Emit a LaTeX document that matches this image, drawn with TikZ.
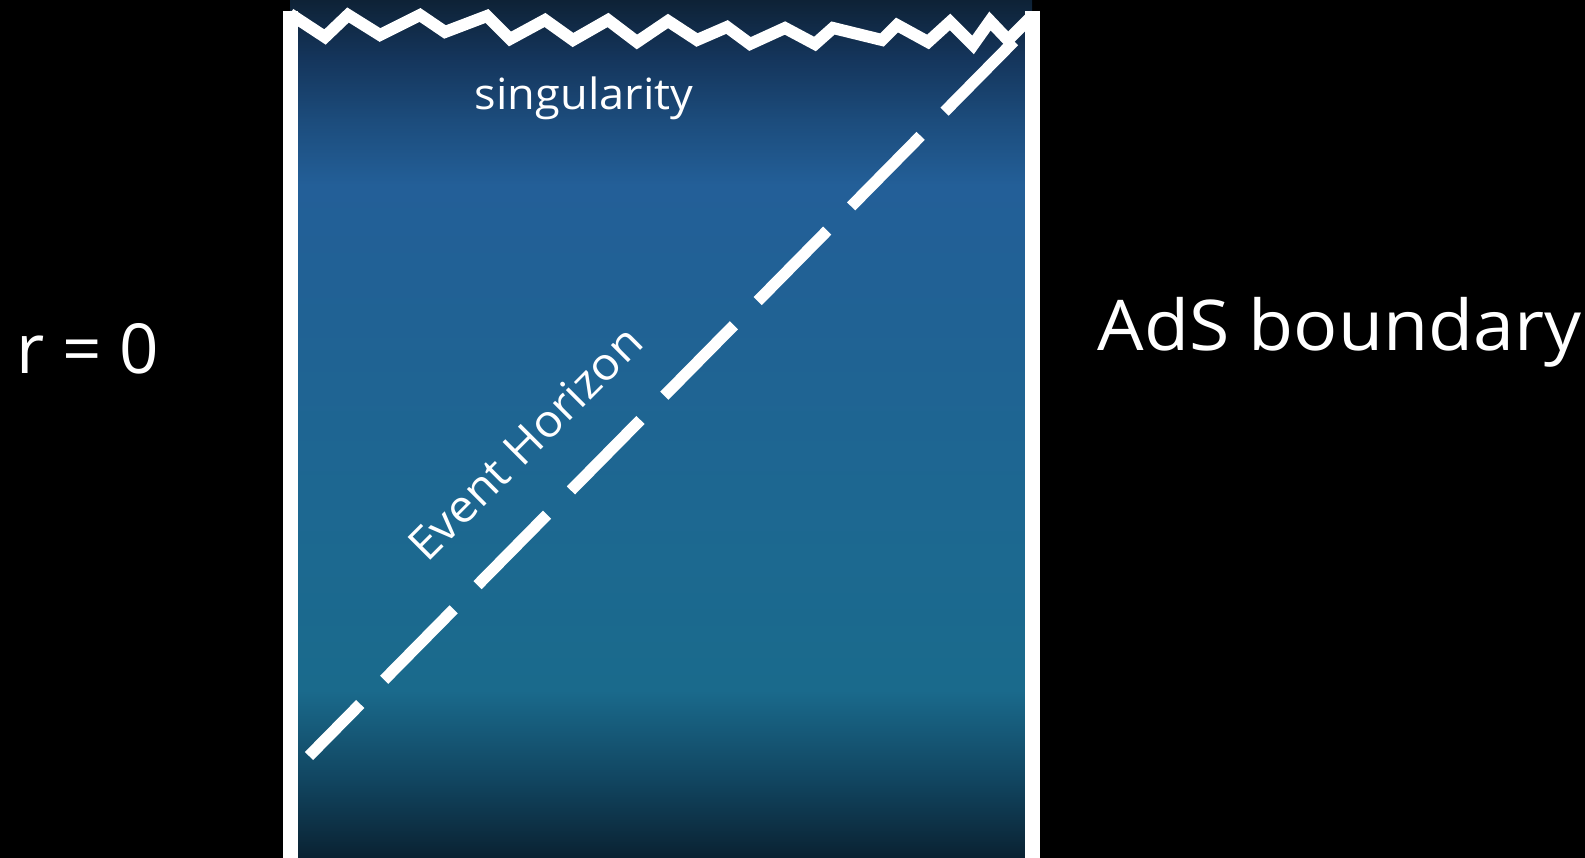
\documentclass[tikz,border=0pt]{standalone}
\usepackage{fontspec}
\setmainfont{Open Sans}
\newfontfamily\widefont[FakeStretch=1.05]{Open Sans}
\definecolor{g0}{HTML}{0E2236}
\definecolor{g1}{HTML}{14345A}
\definecolor{g2}{HTML}{1C4C7C}
\definecolor{g3}{HTML}{235F98}
\definecolor{g4}{HTML}{206294}
\definecolor{g5}{HTML}{1C6990}
\definecolor{g6}{HTML}{1A6A8C}
\definecolor{g7}{HTML}{114560}
\definecolor{g8}{HTML}{0A2232}
\begin{document}
\begin{tikzpicture}[x=1pt,y=-1pt,
  wall/.style={white,line width=15pt},
  zig/.style={white,line width=12pt,miter limit=10},
  horizon/.style={white,line width=11.5pt,dash pattern=on 99pt off 34pt,dash phase=26pt},
  lbl/.style={text=white,inner sep=0pt}]
\useasboundingbox (0,0) rectangle (1585,858);
\fill[black] (0,0) rectangle (1585,858);
% gradient
\shade[top color=g0,bottom color=g1] (290,0) rectangle (1032,55.5);
\shade[top color=g1,bottom color=g2] (290,55) rectangle (1032,120.5);
\shade[top color=g2,bottom color=g3] (290,120) rectangle (1032,185.5);
\shade[top color=g3,bottom color=g4] (290,185) rectangle (1032,320.5);
\shade[top color=g4,bottom color=g5] (290,320) rectangle (1032,560.5);
\shade[top color=g5,bottom color=g6] (290,560) rectangle (1032,690.5);
\shade[top color=g6,bottom color=g7] (290,690) rectangle (1032,780.5);
\shade[top color=g7,bottom color=g8] (290,780) rectangle (1032,858);
% event horizon
\coordinate (hA) at (309,756);
\coordinate (hB) at (1032,23);
\draw[horizon] (hA) -- (hB);
% singularity
\draw[zig] (290,14) -- (325,37) -- (348,15) -- (380,35) -- (420,15) -- (445,32)
  -- (487,16) -- (510,39) -- (545,20) -- (573,40) -- (608,20) -- (637,42)
  -- (668,21) -- (697,40) -- (727,27) -- (750,44) -- (785,28) -- (815,44)
  -- (833,28) -- (882,40) -- (897,25) -- (928,42) -- (950,22) -- (973,45)
  -- (990,21) -- (1008,40) -- (1032,16);
% walls
\coordinate (lt) at (290.5,11);
\coordinate (lb) at (290.5,860);
\coordinate (rt) at (1032,11);
\coordinate (rb) at (1032,860);
\draw[wall] (lt) -- (lb);
\draw[wall] (rt) -- (rb);
% labels
\node[lbl,anchor=base] (r0) at (87.5,374) {\fontsize{69}{82}\selectfont r = 0};
\node[lbl,anchor=base] (ads) at (1339.5,351) {\widefont\fontsize{70}{84}\selectfont AdS boundary};
\node[lbl,anchor=base] (sing) at (584,110) {\widefont\fontsize{43}{52}\selectfont singularity};
\node[lbl,rotate=45] (eh) at (525,443) {\widefont\fontsize{45}{54}\selectfont Event Horizon};
\end{tikzpicture}
\end{document}
